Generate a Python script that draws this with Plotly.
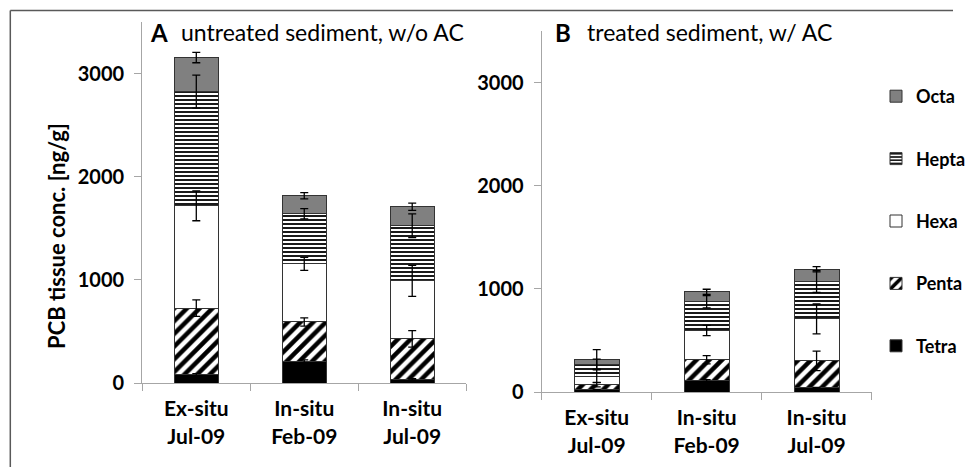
import itertools
import plotly.graph_objects as go

categories = ["Ex-situ<br>Jul-09", "In-situ<br>Feb-09", "In-situ<br>Jul-09"]
groups = ["Tetra", "Penta", "Hexa", "Hepta", "Octa"]

# Panel A: untreated sediment (segment values, ng/g)
a_tetra = [80, 210, 35]
a_penta = [645, 382, 392]
a_hexa = [993, 563, 563]
a_hepta = [1107, 486, 534]
a_octa = [330, 174, 185]
a_err_tetra = [10, 15, 8]
a_err_penta = [80, 40, 80]
a_err_hexa = [145, 63, 150]
a_err_hepta = [160, 50, 115]
a_err_octa = [50, 30, 35]

# Panel B: treated sediment
b_tetra = [20, 110, 40]
b_penta = [50, 202, 262]
b_hexa = [84, 284, 406]
b_hepta = [115, 279, 363]
b_octa = [46, 96, 119]
b_err_tetra = [5, 10, 5]
b_err_penta = [20, 40, 95]
b_err_hexa = [60, 50, 145]
b_err_hepta = [50, 60, 105]
b_err_octa = [95, 25, 25]

yticks = [0, 1000, 2000, 3000]

FONT = "Lato"
W, H = 971, 467


def px_x(p):
    return p / W


def px_y(p):
    return 1 - p / H


styles = {
    "Tetra": dict(color="black", pattern=dict(shape="")),
    "Penta": dict(color="white", pattern=dict(shape="/", fgcolor="black", bgcolor="white", size=9, solidity=0.5)),
    "Hexa": dict(color="white", pattern=dict(shape="")),
    "Hepta": dict(color="white", pattern=dict(shape="-", fgcolor="black", bgcolor="white", size=4, solidity=0.45)),
    "Octa": dict(color="#808080", pattern=dict(shape="")),
}
ranks = {"Octa": 1, "Hepta": 2, "Hexa": 3, "Penta": 4, "Tetra": 5}

panels = [
    ("x", "y", [a_tetra, a_penta, a_hexa, a_hepta, a_octa],
     [a_err_tetra, a_err_penta, a_err_hexa, a_err_hepta, a_err_octa], True),
    ("x2", "y2", [b_tetra, b_penta, b_hexa, b_hepta, b_octa],
     [b_err_tetra, b_err_penta, b_err_hexa, b_err_hepta, b_err_octa], False),
]

fig = go.Figure()
for xa, ya, series, errors, show in panels:
    for name, vals in zip(groups, series):
        st = styles[name]
        fig.add_trace(go.Bar(
            x=categories, y=vals, name=name, legendgroup=name, showlegend=show, legendrank=ranks[name],
            xaxis=xa, yaxis=ya, width=0.41,
            marker=dict(color=st["color"], pattern=st["pattern"], line=dict(color="#333333", width=1)),
        ))
    # error bars at the top of each stacked segment (drawn above all bars)
    tops = [list(itertools.accumulate(col)) for col in zip(*series)]  # per category cumulative
    for i, (name, errs) in enumerate(zip(groups, errors)):
        fig.add_trace(go.Scatter(
            x=categories, y=[t[i] for t in tops], mode="markers", showlegend=False, hoverinfo="skip",
            xaxis=xa, yaxis=ya, marker=dict(size=1, opacity=0),
            error_y=dict(type="data", array=errs, visible=True, color="black", thickness=1.3, width=4),
        ))

axis_common = dict(showgrid=False, zeroline=False, showline=True, linecolor="#a6a6a6", linewidth=1.3,
                   ticks="outside", ticklen=7, tickcolor="#a6a6a6", tickwidth=1.3)
xfont = dict(family=FONT, size=21, color="black", weight="bold")
yfont = dict(family=FONT, size=20, color="black", weight="bold")

fig.update_layout(
    width=W, height=H,
    margin=dict(l=0, r=0, t=0, b=0),
    paper_bgcolor="white", plot_bgcolor="white",
    barmode="stack",
    template="none",
    xaxis=dict(domain=[px_x(145), px_x(475)], anchor="y", tickson="boundaries", tickfont=xfont,
               ticklabelstandoff=7, **axis_common),
    yaxis=dict(domain=[px_y(383), px_y(22)], anchor="x", range=[0, 3500], tickvals=yticks,
               tickfont=yfont, ticklabelstandoff=6, **axis_common),
    xaxis2=dict(domain=[px_x(552), px_x(888)], anchor="y2", tickson="boundaries", tickfont=xfont,
                ticklabelstandoff=7, **axis_common),
    yaxis2=dict(domain=[px_y(392), px_y(31)], anchor="x2", range=[0, 3500], tickvals=yticks,
                tickfont=yfont, ticklabelstandoff=6, **axis_common),
    legend=dict(x=px_x(893), y=px_y(78), xanchor="left", yanchor="top", traceorder="grouped",
                tracegroupgap=36, font=dict(family=FONT, size=18, color="black", weight="bold"),
                bgcolor="rgba(0,0,0,0)", itemwidth=30),
    showlegend=True,
)

fig.add_annotation(text="<b>PCB tissue conc. [ng/g]</b>", textangle=-90, xref="paper", yref="paper",
                   x=px_x(57), y=px_y(236), showarrow=False, xanchor="center", yanchor="middle",
                   font=dict(family=FONT, size=22, color="black"))
fig.add_annotation(text="<b>A</b>", xref="paper", yref="paper", x=px_x(151), y=px_y(33), showarrow=False,
                   xanchor="left", yanchor="middle", font=dict(family=FONT, size=24, color="black"))
fig.add_annotation(text="untreated sediment, w/o AC", xref="paper", yref="paper", x=px_x(182), y=px_y(32),
                   showarrow=False, xanchor="left", yanchor="middle", font=dict(family=FONT, size=23, color="black"))
fig.add_annotation(text="<b>B</b>", xref="paper", yref="paper", x=px_x(563), y=px_y(33), showarrow=False,
                   xanchor="left", yanchor="middle", font=dict(family=FONT, size=24, color="black"))
fig.add_annotation(text="treated sediment, w/ AC", xref="paper", yref="paper", x=px_x(596), y=px_y(32),
                   showarrow=False, xanchor="left", yanchor="middle", font=dict(family=FONT, size=23, color="black"))

# outer frame (top and left edges visible)
fig.add_shape(type="line", xref="paper", yref="paper", x0=px_x(10.5), x1=1, y0=px_y(10.5), y1=px_y(10.5),
              line=dict(color="#595959", width=1.5))
fig.add_shape(type="line", xref="paper", yref="paper", x0=px_x(10.5), x1=px_x(10.5), y0=px_y(10.5), y1=0,
              line=dict(color="#595959", width=1.5))

fig.write_html("out.html")
